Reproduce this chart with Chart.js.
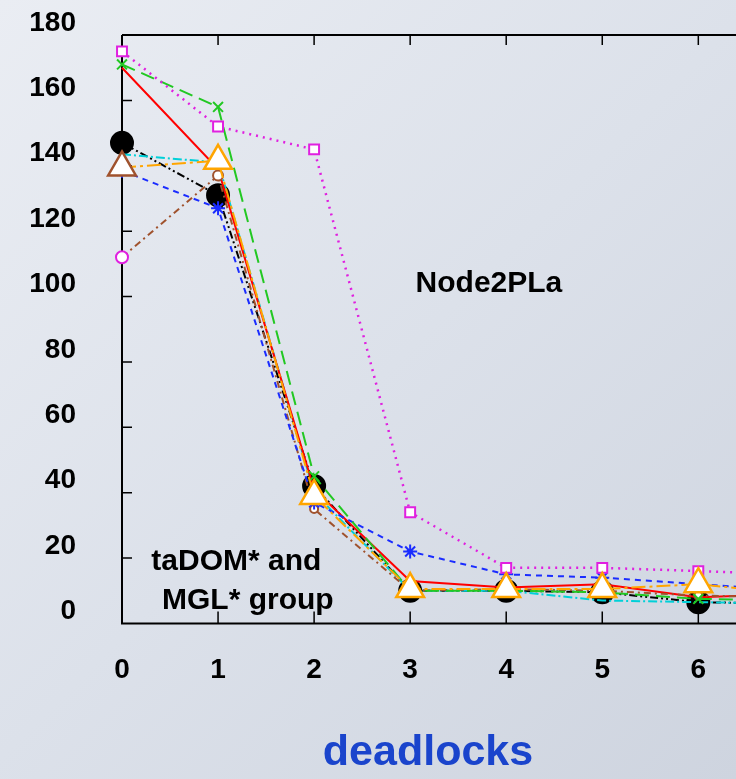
<!DOCTYPE html>
<html>
<head>
<meta charset="utf-8">
<script src="https://cdn.jsdelivr.net/npm/chart.js@4.4.1/dist/chart.umd.min.js"></script>
<style>
  html, body { margin: 0; padding: 0; width: 736px; height: 779px; overflow: hidden; }
  body { background: linear-gradient(135deg, #eaedf3 0%, #dce1ea 50%, #ced4df 100%); }
  #wrap { position: absolute; left: 0; top: 0; width: 856px; height: 779px; }
</style>
</head>
<body>
<div id="wrap"><canvas id="myChart"></canvas></div>
<script>
const deadlocks = [0, 1, 2, 3, 4, 5, 6, 7];
const yTicks = [0, 20, 40, 60, 80, 100, 120, 140, 160, 180];

const node2pla = [175, 152, 145, 34, 17, 17, 16, 15];
const greenSeries = [171, 158, 45, 10, 10, 9.5, 7.5, 7];
const redSeries = [170, 139, 41, 13, 11, 12, 8, 9];
const blackSeries = [147, 131, 42, 10, 10, 9.5, 6.5, 6];
const cyanSeries = [143.5, 141, 40, 10, 10, 7, 6.5, 6];
const orangeSeries = [139.5, 141.5, 39, 10.5, 10.5, 10.5, 12, 9];
const brownSeries = [112, 137, 35, 10, 10.5, 10, 8.5, 8];
const blueSeries = [138.5, 127, 37, 22, 15, 14, 12, 10];

const notes = [
    { text: 'Node2PLa', x: 3.82, y: 104 },
    { text: 'taDOM* and', x: 1.19, y: 18.8 },
    { text: 'MGL* group', x: 1.31, y: 6.9 }
];

function pts(values) {
    return values.map((v, i) => ({ x: deadlocks[i], y: v }));
}

const FONT = '"Liberation Sans", Arial, sans-serif';

const framePlugin = {
    id: 'frame',
    beforeDatasetsDraw(chart) {
        const ctx = chart.ctx;
        const a = chart.chartArea;
        const xs = chart.scales.x;
        const ys = chart.scales.y;
        ctx.save();
        ctx.strokeStyle = '#000';
        ctx.lineWidth = 2;
        ctx.beginPath();
        ctx.moveTo(a.left, a.top);
        ctx.lineTo(a.right, a.top);
        ctx.moveTo(a.left, a.top);
        ctx.lineTo(a.left, a.bottom);
        ctx.lineTo(a.right, a.bottom);
        ctx.stroke();
        ctx.lineWidth = 1.5;
        ctx.beginPath();
        for (let i = 1; i < deadlocks.length; i++) {
            const px = xs.getPixelForValue(deadlocks[i]);
            ctx.moveTo(px, a.bottom);
            ctx.lineTo(px, a.bottom - 12);
            ctx.moveTo(px, a.top);
            ctx.lineTo(px, a.top + 10);
        }
        for (let i = 1; i < yTicks.length - 1; i++) {
            const py = ys.getPixelForValue(yTicks[i]);
            ctx.moveTo(a.left, py);
            ctx.lineTo(a.left + 10, py);
        }
        ctx.stroke();
        ctx.restore();
    },
    afterDraw(chart) {
        const ctx = chart.ctx;
        const xs = chart.scales.x;
        const ys = chart.scales.y;
        ctx.save();
        ctx.fillStyle = '#000';
        ctx.font = 'bold 30px ' + FONT;
        ctx.textAlign = 'center';
        ctx.textBaseline = 'middle';
        notes.forEach(n => {
            ctx.fillText(n.text, xs.getPixelForValue(n.x), ys.getPixelForValue(n.y));
        });
        ctx.restore();
    }
};

const ctx = document.getElementById('myChart');

const data = {
    datasets: [
        {
            label: 'orange',
            data: pts(orangeSeries),
            borderColor: '#ffa500',
            borderWidth: 2,
            borderDash: [14, 4, 3, 4],
            pointStyle: 'triangle',
            pointRadius: 16,
            pointBorderWidth: 2.5,
            pointBackgroundColor: '#ffffff',
            pointBorderColor: ['#a0522d', '#ffa500', '#ffa500', '#ffa500', '#ffa500', '#ffa500', '#ffa500', '#ffa500']
        },
        {
            label: 'Node2PLa',
            data: pts(node2pla),
            borderColor: '#e020e0',
            borderWidth: 2.5,
            borderDash: [2, 5],
            pointStyle: 'rect',
            pointRadius: 7,
            pointBorderWidth: 2,
            pointBackgroundColor: '#ffffff',
            pointBorderColor: '#e020e0'
        },
        {
            label: 'green',
            data: pts(greenSeries),
            borderColor: '#22c822',
            borderWidth: 2,
            borderDash: [14, 7],
            pointStyle: 'crossRot',
            pointRadius: 7,
            pointBorderWidth: 2,
            pointBorderColor: '#22c822'
        },
        {
            label: 'blue',
            data: pts(blueSeries),
            borderColor: '#1a2cff',
            borderWidth: 2,
            borderDash: [6, 5],
            pointStyle: 'star',
            pointRadius: 7,
            pointBorderWidth: 2,
            pointBorderColor: '#1a2cff'
        },
        {
            label: 'brown',
            data: pts(brownSeries),
            borderColor: '#a0522d',
            borderWidth: 2,
            borderDash: [7, 4, 2, 4],
            pointStyle: 'circle',
            pointRadius: [6, 5, 4, 4, 4, 4, 4, 4],
            pointBorderWidth: 2,
            pointBackgroundColor: '#ffffff',
            pointBorderColor: ['#e020e0', '#a0522d', '#a0522d', '#a0522d', '#a0522d', '#a0522d', '#a0522d', '#a0522d']
        },
        {
            label: 'red',
            data: pts(redSeries),
            borderColor: '#ff0000',
            borderWidth: 2,
            pointRadius: 0
        },
        {
            label: 'cyan',
            data: pts(cyanSeries),
            borderColor: '#00d0d8',
            borderWidth: 2,
            borderDash: [9, 3, 2, 3],
            pointRadius: 0
        },
        {
            label: 'black',
            data: pts(blackSeries),
            borderColor: '#000000',
            borderWidth: 2,
            borderDash: [8, 3, 2, 3, 2, 3],
            pointStyle: 'circle',
            pointRadius: 11,
            pointBackgroundColor: '#000000',
            pointBorderColor: '#000000'
        }
    ]
};

const myChart = new Chart(ctx, {
    type: 'line',
    data: data,
    plugins: [framePlugin],
    options: {
        responsive: true,
        maintainAspectRatio: false,
        animation: false,
        events: [],
        elements: {
            line: { tension: 0, fill: false }
        },
        datasets: {
            line: { clip: false }
        },
        layout: {
            autoPadding: false,
            padding: { top: 35, right: 0, left: 0, bottom: 0 }
        },
        plugins: {
            legend: { display: false },
            tooltip: { enabled: false },
            title: {
                display: true,
                position: 'bottom',
                text: 'deadlocks',
                color: '#1a44cc',
                font: { family: FONT, size: 43, weight: 'bold' },
                padding: { top: 46, bottom: 0 }
            }
        },
        scales: {
            x: {
                type: 'linear',
                min: 0,
                max: 7.6,
                afterFit(s) { s.height = 58; },
                grid: { display: true, drawOnChartArea: false, drawTicks: true, tickLength: 26, tickColor: 'rgba(0,0,0,0)' },
                border: { display: false },
                ticks: {
                    stepSize: 1,
                    padding: 4,
                    color: '#000',
                    font: { family: FONT, size: 28, weight: 'bold' },
                    callback: v => (v <= 6 ? v : '')
                }
            },
            y: {
                min: 0,
                max: 180,
                afterFit(s) { s.width = 122; },
                grid: { display: true, drawOnChartArea: false, drawTicks: true, tickLength: 40, tickColor: 'rgba(0,0,0,0)' },
                border: { display: false },
                ticks: {
                    stepSize: 20,
                    padding: 6,
                    labelOffset: -12,
                    color: '#000',
                    font: { family: FONT, size: 28, weight: 'bold' }
                }
            }
        }
    }
});
</script>
</body>
</html>
